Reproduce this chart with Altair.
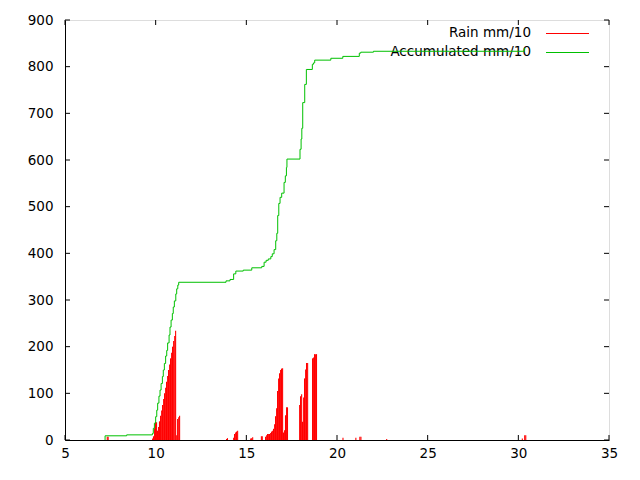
import altair as alt
import pandas as pd

# Rain (mm/10) per sample, day of month
rain_day = [7.30, 7.35,
            9.80, 9.85, 9.91, 9.96, 10.02, 10.07, 10.13, 10.18, 10.24, 10.30, 10.35, 10.41,
            10.46, 10.52, 10.57, 10.63, 10.68, 10.74, 10.79, 10.85, 10.90, 10.96, 11.02,
            11.07, 11.13, 11.18, 11.24, 11.29,
            13.88, 13.93,
            14.27, 14.32, 14.38, 14.43, 14.49,
            15.21, 15.26, 15.32,
            15.80, 15.85,
            16.03, 16.09, 16.14, 16.20, 16.25, 16.31, 16.36, 16.42, 16.47, 16.53, 16.58,
            16.64, 16.69, 16.75, 16.80, 16.86, 16.91, 16.97, 17.02, 17.08, 17.13, 17.19, 17.24,
            17.91, 17.96, 18.02, 18.07, 18.13, 18.18, 18.24, 18.29, 18.35,
            18.62, 18.68, 18.73, 18.79, 18.84,
            20.30, 21.01, 21.23, 21.29, 22.71, 30.19, 30.32, 30.38]
rain_val = [7, 7,
            3, 8, 25, 38, 38, 20, 28, 40, 52, 63, 75, 88,
            100, 112, 125, 137, 150, 162, 175, 187, 200, 212, 223,
            234, 10, 45, 49, 52,
            2, 4,
            5, 13, 16, 18, 20,
            3, 4, 6,
            8, 8,
            7, 10, 13, 13, 13, 15, 18, 20, 24, 34, 51,
            68, 105, 132, 143, 150, 153, 154, 16, 21, 53, 70, 70,
            75, 94, 98, 39, 91, 132, 151, 165, 165,
            175, 177, 184, 184, 184,
            5, 5, 7, 7, 2, 3, 10, 10]

# Accumulated rain (mm/10)
acc_day = [7.21, 7.21, 8.40,
           9.82, 9.87, 9.93, 10.00, 10.06, 10.11, 10.18, 10.24, 10.30, 10.37, 10.42, 10.48,
           10.55, 10.61, 10.66, 10.74, 10.79, 10.85, 10.92, 10.97, 11.03, 11.11, 11.16,
           11.22, 11.27,
           13.88, 14.10, 14.30, 14.42, 14.83, 15.30, 15.85, 15.98, 16.09, 16.21,
           16.35, 16.43, 16.53, 16.62, 16.68, 16.73, 16.79, 16.86, 16.95, 17.08, 17.15,
           17.21, 17.24, 17.96, 18.02, 18.06, 18.11, 18.22, 18.31, 18.64, 18.70, 18.77,
           19.66, 20.32, 21.23, 21.31, 22.01, 30.33]
acc_val = [0, 9, 11,
           14, 25, 36, 50, 64, 79, 94, 107, 121, 136, 150, 164,
           180, 192, 208, 225, 242, 257, 271, 285, 298, 313, 324,
           332, 338,
           341, 344, 356, 362, 364, 369, 372, 381, 385, 388,
           393, 399, 408, 427, 443, 481, 507, 520, 529, 552, 566,
           584, 602, 623, 645, 668, 723, 762, 794, 805, 808, 814,
           818, 822, 829, 831, 833, 840]

x_ticks = [5, 10, 15, 20, 25, 30, 35]
y_ticks = [0, 100, 200, 300, 400, 500, 600, 700, 800, 900]

W, H = 544, 420
FONT = "DejaVu Sans"
FS = 13.5
RED = "#ff0000"
GREEN = "#00c000"

rain_df = pd.DataFrame({"day": rain_day, "rain": rain_val})
acc_df = pd.DataFrame({"day": acc_day, "acc": acc_val})
xt_df = pd.DataFrame({"t": x_ticks})
yt_df = pd.DataFrame({"t": y_ticks})

xscale = alt.Scale(domain=[5, 35], nice=False, zero=False)
yscale = alt.Scale(domain=[0, 900], nice=False)

xaxis = alt.Axis(values=x_ticks, ticks=False, grid=False, domain=True, domainColor="black",
                 labelFont=FONT, labelFontSize=FS, labelColor="black", labelPadding=6,
                 title=None, format="d", labelFlush=False)
yaxis = alt.Axis(values=y_ticks, ticks=False, grid=False, domain=True, domainColor="black",
                 labelFont=FONT, labelFontSize=FS, labelColor="black", labelPadding=12,
                 title=None, format="d")

rain = alt.Chart(rain_df).mark_bar(color=RED).transform_calculate(
    day2="datum.day + 0.06"
).encode(
    x=alt.X("day:Q", scale=xscale, axis=xaxis),
    x2="day2:Q",
    y=alt.Y("rain:Q", scale=yscale, axis=yaxis),
    y2=alt.datum(0),
)

acc = alt.Chart(acc_df).mark_line(color=GREEN, strokeWidth=1, interpolate="step-after").encode(
    x=alt.X("day:Q", scale=xscale),
    y=alt.Y("acc:Q", scale=yscale),
)

tick_len = 5
xt_bottom = alt.Chart(xt_df).mark_rule(color="black", strokeWidth=1).encode(
    x=alt.X("t:Q", scale=xscale), y=alt.value(H), y2=alt.value(H - tick_len))
xt_top = alt.Chart(xt_df).mark_rule(color="black", strokeWidth=1).encode(
    x=alt.X("t:Q", scale=xscale), y=alt.value(0), y2=alt.value(tick_len))
yt_left = alt.Chart(yt_df).mark_rule(color="black", strokeWidth=1).encode(
    y=alt.Y("t:Q", scale=yscale), x=alt.value(0), x2=alt.value(tick_len))
yt_right = alt.Chart(yt_df).mark_rule(color="black", strokeWidth=1).encode(
    y=alt.Y("t:Q", scale=yscale), x=alt.value(W), x2=alt.value(W - tick_len))

one = pd.DataFrame({"a": [0]})
leg_text1 = alt.Chart(one).mark_text(
    text="Rain mm/10", align="right", baseline="middle", font=FONT, fontSize=FS, color="black"
).encode(x=alt.value(466), y=alt.value(12.5))
leg_text2 = alt.Chart(one).mark_text(
    text="Accumulated mm/10", align="right", baseline="middle", font=FONT, fontSize=FS, color="black"
).encode(x=alt.value(466), y=alt.value(31.8))
leg_line1 = alt.Chart(one).mark_rule(color=RED, stroke=RED, strokeWidth=1).encode(
    x=alt.value(481), x2=alt.value(524), y=alt.value(13.5))
leg_line2 = alt.Chart(one).mark_rule(color=GREEN, stroke=GREEN, strokeWidth=1).encode(
    x=alt.value(481), x2=alt.value(524), y=alt.value(32.5))

chart = alt.layer(
    xt_bottom, xt_top, yt_left, yt_right,
    leg_text1, leg_line1, rain, leg_text2, leg_line2, acc
).properties(
    width=W, height=H,
    autosize=alt.AutoSizeParams(type="none"),
    padding={"left": 57, "top": 12, "right": 23, "bottom": 32},
).configure_view(
    stroke="black", strokeWidth=1
).configure(background="white")

chart.save("out.html", embed_options={"renderer": "svg", "actions": False})
